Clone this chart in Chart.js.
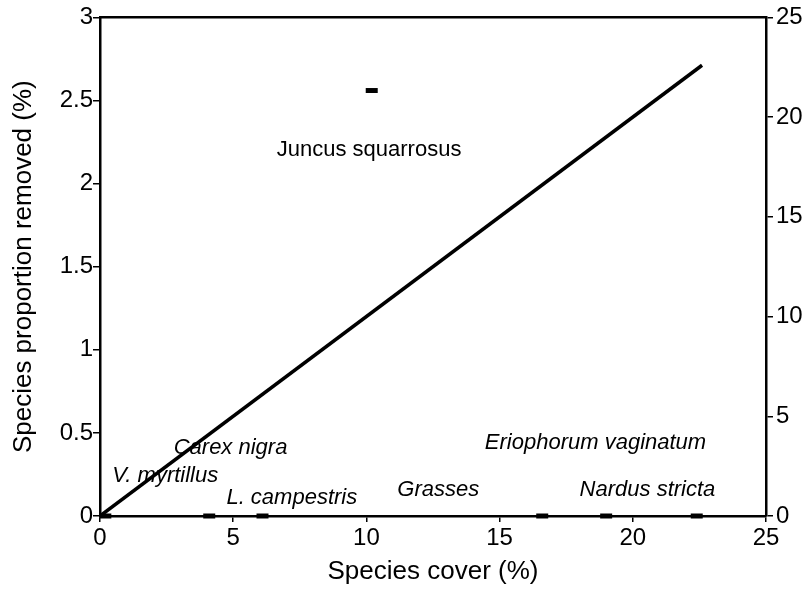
<!DOCTYPE html>
<html>
<head>
<meta charset="utf-8">
<script src="https://cdn.jsdelivr.net/npm/chart.js@4"></script>
<style>
  html, body { margin: 0; padding: 0; background: #fff; }
  #wrap { width: 808px; height: 597px; }
</style>
</head>
<body>
<div id="wrap"><canvas id="chart" width="808" height="597"></canvas></div>
<script>
// species cover (%) and proportion removed (%) for each species mark
const speciesCover = [0.2, 4.1, 6.1, 10.2, 16.6, 19.0, 22.4];
const proportionRemoved = [0, 0, 0, 2.56, 0, 0, 0];

// 1:1 line, read against the right axis
const lineCover = [0, 22.6];
const lineRight = [0, 22.6];

const speciesNames = ['V. myrtillus', 'Carex nigra', 'L. campestris', 'Juncus squarrosus',
    'Grasses', 'Eriophorum vaginatum', 'Nardus stricta'];

const xTicks = [0, 5, 10, 15, 20, 25];
const leftTicks = [0, 0.5, 1, 1.5, 2, 2.5, 3];
const rightTicks = [0, 5, 10, 15, 20, 25];

// where each name sits (data units on x / left axis)
const namePlaces = [
    { x: 2.45, y: 0.24, italic: true },
    { x: 4.9, y: 0.41, italic: true },
    { x: 7.2, y: 0.11, italic: true },
    { x: 10.1, y: 2.2, italic: false },
    { x: 12.7, y: 0.16, italic: true },
    { x: 18.6, y: 0.44, italic: true },
    { x: 20.55, y: 0.16, italic: true }
];

const FONT = '"Liberation Sans", Arial, Helvetica, sans-serif';

const nameLabels = {
    id: 'nameLabels',
    afterDatasetsDraw(chart) {
        const ctx = chart.ctx;
        const xs = chart.scales.x;
        const ys = chart.scales.y;
        ctx.save();
        ctx.fillStyle = '#000';
        ctx.textAlign = 'center';
        ctx.textBaseline = 'middle';
        speciesNames.forEach((name, i) => {
            const p = namePlaces[i];
            ctx.font = (p.italic ? 'italic ' : '') + '22px ' + FONT;
            ctx.fillText(name, xs.getPixelForValue(p.x), ys.getPixelForValue(p.y));
        });
        ctx.restore();
    }
};

const tickStyle = { color: '#000', font: { family: FONT, size: 24 }, callback: v => String(v) };

new Chart(document.getElementById('chart'), {
    type: 'scatter',
    data: {
        datasets: [
            {
                type: 'line',
                data: lineCover.map((x, i) => ({ x: x, y: lineRight[i] })),
                yAxisID: 'y2',
                borderColor: '#000',
                borderWidth: 3.5,
                pointRadius: 0,
                fill: false
            },
            {
                data: speciesCover.map((x, i) => ({ x: x, y: proportionRemoved[i] })),
                yAxisID: 'y',
                pointStyle: 'line',
                pointRadius: 6,
                borderColor: '#000',
                borderWidth: 5,
                clip: false
            }
        ]
    },
    options: {
        responsive: false,
        animation: false,
        layout: { padding: { top: 16, left: 2, right: 0, bottom: 6 } },
        plugins: { legend: { display: false }, tooltip: { enabled: false } },
        scales: {
            x: {
                type: 'linear',
                position: 'bottom',
                min: 0, max: 25,
                afterBuildTicks: s => { s.ticks = xTicks.map(v => ({ value: v })); },
                afterFit: s => { s.height = 75; },
                ticks: { ...tickStyle, padding: 2, maxRotation: 0 },
                grid: { drawOnChartArea: false, color: '#000', tickLength: 6, lineWidth: 1.5 },
                border: { color: '#000', width: 2.5 },
                title: { display: true, text: 'Species cover (%)', color: '#000',
                    font: { family: FONT, size: 26 }, padding: { top: 0 } }
            },
            xTop: {
                type: 'linear',
                position: 'top',
                min: 0, max: 25,
                ticks: { display: false },
                afterFit: s => { s.height = 0; },
                grid: { display: false, drawTicks: false },
                border: { display: true, color: '#000', width: 2.5 }
            },
            y: {
                type: 'linear',
                position: 'left',
                min: 0, max: 3,
                afterBuildTicks: s => { s.ticks = leftTicks.map(v => ({ value: v })); },
                afterFit: s => { s.width = 98; },
                ticks: { ...tickStyle, padding: 0 },
                grid: { drawOnChartArea: false, color: '#000', tickLength: 7, lineWidth: 1.5 },
                border: { color: '#000', width: 2.5 },
                title: { display: true, text: 'Species proportion removed (%)', color: '#000',
                    font: { family: FONT, size: 26 }, padding: { top: 6, bottom: 0 } }
            },
            y2: {
                type: 'linear',
                position: 'right',
                min: 0, max: 25,
                afterBuildTicks: s => { s.ticks = rightTicks.map(v => ({ value: v })); },
                afterFit: s => { s.width = 42; },
                ticks: { ...tickStyle, padding: 3 },
                grid: { drawOnChartArea: false, color: '#000', tickLength: 7, lineWidth: 1.5 },
                border: { color: '#000', width: 2.5 }
            }
        }
    },
    plugins: [nameLabels]
});
</script>
</body>
</html>
